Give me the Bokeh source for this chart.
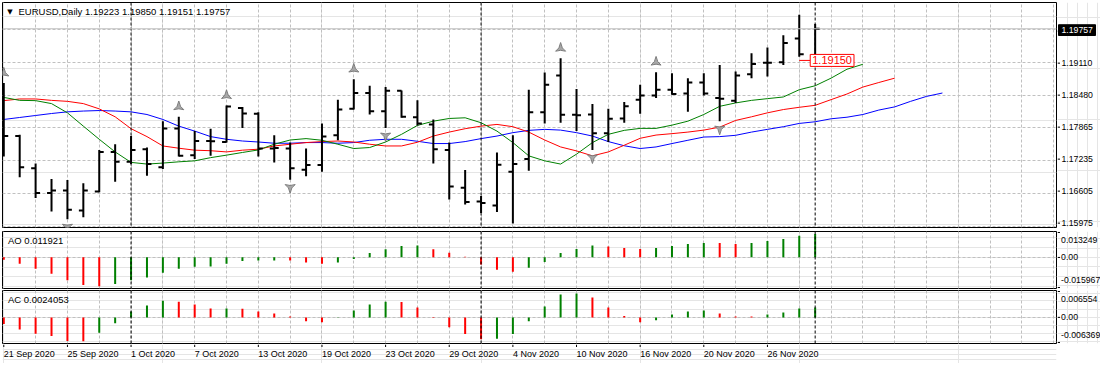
import numpy as np
import pandas as pd
from bokeh.plotting import figure
from bokeh.layouts import column, row
from bokeh.models import Range1d, FixedTicker, Span, Label, Grid
from bokeh.core.properties import value
from bokeh.embed import file_html
from bokeh.resources import INLINE

FONT = "Liberation Sans"
FS = "9.5px"      # titles
FS_SCALE = "8.7px"  # price / indicator scale
FS_DATE = "9px"
GRID = "#C0C0C0"

# ---------------- data ----------------
dates = pd.bdate_range("2020-09-21", "2020-12-01")
date_text = [f"{d.day} {d.strftime('%b %Y')}" for d in dates]

opens = [1.18400, 1.17700, 1.17081, 1.16606, 1.16655, 1.16275, 1.16636, 1.17396, 1.17206, 1.17448,
         1.17100, 1.17847, 1.17334, 1.17605, 1.17586, 1.18240, 1.18126, 1.17461, 1.17461, 1.17054,
         1.17144, 1.17714, 1.18221, 1.18525, 1.18175, 1.18569, 1.18061, 1.17923, 1.17434, 1.16707,
         1.16446, 1.16370, 1.17016, 1.17258, 1.18156, 1.18859, 1.18107, 1.18113, 1.17752, 1.18037,
         1.18398, 1.18479, 1.18588, 1.18517, 1.18726, 1.18430, 1.18379, 1.18886, 1.19106, 1.19114,
         1.19570, 1.19223]
highs = [1.18715, 1.17727, 1.17176, 1.16878, 1.16859, 1.16796, 1.17434, 1.17543, 1.17700, 1.17480,
         1.17985, 1.18069, 1.17795, 1.17841, 1.18284, 1.18259, 1.18156, 1.17714, 1.17575, 1.17461,
         1.17942, 1.18398, 1.18791, 1.18664, 1.18639, 1.18574, 1.18384, 1.18018, 1.17575, 1.17049,
         1.16549, 1.17385, 1.17714, 1.18588, 1.18916, 1.19190, 1.18601, 1.18316, 1.18221, 1.18354,
         1.18683, 1.18924, 1.18905, 1.18810, 1.18905, 1.19063, 1.18935, 1.19285, 1.19399, 1.19633,
         1.20026, 1.19850]
lows = [1.17309, 1.16910, 1.16511, 1.16256, 1.16104, 1.16142, 1.16625, 1.16826, 1.17163, 1.16940,
        1.17068, 1.17309, 1.17258, 1.17320, 1.17575, 1.17852, 1.17309, 1.17195, 1.16864, 1.16929,
        1.17016, 1.17619, 1.18208, 1.18113, 1.17852, 1.18050, 1.17904, 1.17176, 1.16484, 1.16389,
        1.16226, 1.16245, 1.16023, 1.17035, 1.17942, 1.17955, 1.17795, 1.17434, 1.17586, 1.17955,
        1.18126, 1.18430, 1.18493, 1.18164, 1.18479, 1.17985, 1.18335, 1.18810, 1.18840, 1.19063,
        1.19220, 1.19151]
closes = [1.17700, 1.17100, 1.16606, 1.16655, 1.16289, 1.16655, 1.17396, 1.17206, 1.17434, 1.17163,
          1.17847, 1.17320, 1.17605, 1.17600, 1.18265, 1.18132, 1.17461, 1.17470, 1.17081, 1.17144,
          1.17689, 1.18208, 1.18525, 1.18175, 1.18569, 1.18069, 1.17942, 1.17448, 1.16731, 1.16435,
          1.16416, 1.17149, 1.17163, 1.18156, 1.18683, 1.18107, 1.18099, 1.17752, 1.18031, 1.18270,
          1.18479, 1.18588, 1.18506, 1.18726, 1.18517, 1.18417, 1.18859, 1.19082, 1.19106, 1.19486,
          1.19266, 1.19757]

# Alligator (shifted forward, so they run past the last bar)
jaw = [1.18018, 1.18056, 1.18094, 1.18132, 1.18164, 1.18179, 1.18189, 1.18179, 1.18164, 1.18113,
       1.18018, 1.17890, 1.17795, 1.17689, 1.17638, 1.17605, 1.17586, 1.17562, 1.17562, 1.17575,
       1.17575, 1.17562, 1.17575, 1.17619, 1.17638, 1.17638, 1.17600, 1.17556, 1.17556, 1.17594,
       1.17651, 1.17700, 1.17765, 1.17809, 1.17828, 1.17814, 1.17765, 1.17700, 1.17594, 1.17514,
       1.17461, 1.17491, 1.17556, 1.17619, 1.17681, 1.17689, 1.17714, 1.17776, 1.17828, 1.17879,
       1.17942, 1.17974, 1.18031, 1.18061, 1.18113, 1.18198, 1.18259, 1.18365, 1.18460, 1.18525]
teeth = [1.18379, 1.18411, 1.18411, 1.18384, 1.18365, 1.18322, 1.18221, 1.18069, 1.17841, 1.17689,
         1.17510, 1.17467, 1.17429, 1.17419, 1.17396, 1.17429, 1.17448, 1.17510, 1.17543, 1.17575,
         1.17594, 1.17605, 1.17586, 1.17543, 1.17510, 1.17510, 1.17581, 1.17700, 1.17776, 1.17841,
         1.17890, 1.17923, 1.17879, 1.17776, 1.17624, 1.17491, 1.17415, 1.17320, 1.17396, 1.17524,
         1.17657, 1.17719, 1.17746, 1.17776, 1.17814, 1.17871, 1.17999, 1.18069, 1.18145, 1.18208,
         1.18251, 1.18289, 1.18398, 1.18506, 1.18639, 1.18726, 1.18810]
lips = [1.18441, 1.18384, 1.18379, 1.18322, 1.18145, 1.17890, 1.17638, 1.17396, 1.17195, 1.17163,
        1.17182, 1.17206, 1.17225, 1.17286, 1.17334, 1.17385, 1.17434, 1.17543, 1.17624, 1.17651,
        1.17619, 1.17543, 1.17461, 1.17480, 1.17586, 1.17733, 1.17904, 1.17985, 1.18037, 1.18050,
        1.17955, 1.17795, 1.17575, 1.17320, 1.17225, 1.17163, 1.17353, 1.17575, 1.17733, 1.17809,
        1.17847, 1.17847, 1.17909, 1.17985, 1.18113, 1.18270, 1.18335, 1.18384, 1.18417, 1.18449,
        1.18588, 1.18664, 1.18810, 1.18981, 1.19076]

fractal_up = [0, 11, 14, 22, 35, 41]
fractal_down = [4, 18, 24, 32, 37, 45]

ao = [-0.00117, -0.00334, -0.00585, -0.00835, -0.01169, -0.01420, -0.01486, -0.01369, -0.01169, -0.01035,
      -0.00785, -0.00585, -0.00484, -0.00468, -0.00334, -0.00184, -0.00167, -0.00159, -0.00167, -0.00267,
      -0.00334, -0.00267, -0.00084, 0.00217, 0.00418, 0.00585, 0.00601, 0.00418, 0.00234, 0.00033,
      -0.00367, -0.00635, -0.00735, -0.00534, -0.00234, 0.00221, 0.00425, 0.00612, 0.00561, 0.00476,
      0.00425, 0.00476, 0.00578, 0.00680, 0.00740, 0.00731, 0.00680, 0.00731, 0.00833, 0.00935,
      0.01105, 0.011921]
ac = [-0.00160, -0.00295, -0.00399, -0.00455, -0.00575, -0.00580, -0.00375, -0.00144, 0.00144, 0.00287,
      0.00407, 0.00383, 0.00311, 0.00215, 0.00218, 0.00212, 0.00144, 0.00096, 0.00024, -0.00096,
      -0.00120, 0.00005, 0.00168, 0.00311, 0.00383, 0.00378, 0.00239, 0.00008, -0.00239, -0.00407,
      -0.00535, -0.00519, -0.00407, -0.00096, 0.00263, 0.00556, 0.00580, 0.00484, 0.00238, 0.00032,
      -0.00119, -0.00071, 0.00071, 0.00143, 0.00167, 0.00095, 0.00024, 0.00020, 0.00071, 0.00119,
      0.00214, 0.0024053]

price_grid = [1.19737, 1.19110, 1.18483, 1.17856, 1.17229, 1.16602, 1.15975]
price_labels = ["", "1.19110", "1.18480", "1.17865", "1.17235", "1.16605", "1.15975"]
ao_scale = [0.013249, 0.0, -0.015967]
ac_scale = [0.006554, 0.0, -0.006369]
ao_scale_text = ["0.013249", "0.00", "-0.015967"]
ac_scale_text = ["0.006554", "0.00", "-0.006369"]
marked_low = 1.19150

# ---------------- layout ----------------
LW = 1057          # chart figures (2px left border + 1054 frame + 1px right border)
RW = 43            # price-scale column
n = len(closes)
idx = np.arange(n)
XR = Range1d(-0.081, 66.17)
month_starts = [i for i in range(1, n) if dates[i].month != dates[i - 1].month]


def make_fig(h, top, bottom, yr):
    p = figure(width=LW, height=h, x_range=XR, y_range=yr, output_backend="svg",
               toolbar_location=None, x_axis_location=None, y_axis_location=None,
               min_border_left=2, min_border_right=1, min_border_top=top, min_border_bottom=bottom,
               background_fill_color="white", border_fill_color="white",
               outline_line_color="black", outline_line_width=1)
    p.add_layout(Grid(dimension=0, ticker=FixedTicker(ticks=list(range(2, 67, 2))),
                      grid_line_color=GRID, grid_line_dash="3 2"))
    for m in month_starts:
        p.add_layout(Span(location=m, dimension="height", line_color="black",
                          line_dash="3 2", line_width=1))
    return p


def side_fig(h, top, bottom, vmin, vmax):
    fh = h - top - bottom
    pp = (vmax - vmin) / fh
    p = figure(width=RW, height=h, x_range=Range1d(0, RW),
               y_range=Range1d(vmin - bottom * pp, vmax + top * pp), output_backend="svg",
               toolbar_location=None, x_axis_location=None, y_axis_location=None, min_border=0,
               background_fill_color="white", border_fill_color="white", outline_line_color=None)
    return p, pp


def txt(p, xs, ys, texts, color="black", size=FS_SCALE, align="left", baseline="middle"):
    p.text(xs, ys, text=texts, text_color=color, text_font=value(FONT), text_font_size=value(size),
           text_align=align, text_baseline=baseline)


# main price panel
MH, MT, MB = 230, 2, 3
py0, py1 = 1.15947, 1.20260
main = make_fig(MH, MT, MB, Range1d(py0, py1))
main.add_layout(Grid(dimension=1, ticker=FixedTicker(ticks=price_grid),
                     grid_line_color=GRID, grid_line_dash="3 2"))
main.add_layout(Span(location=closes[-1], dimension="width", line_color=GRID, line_width=1))

main.line(np.arange(len(jaw)), jaw, line_color="#0000FF", line_width=1)
main.line(np.arange(len(teeth)), teeth, line_color="#FF0000", line_width=1)
main.line(np.arange(len(lips)), lips, line_color="#008000", line_width=1)

tick = 0.28
main.segment(idx, lows, idx, highs, line_color="black", line_width=2)
main.segment(idx - tick, opens, idx, opens, line_color="black", line_width=2)
main.segment(idx, closes, idx + tick, closes, line_color="black", line_width=2)

mpp = (py1 - py0) / (MH - MT - MB)
main.scatter(fractal_up, [highs[i] + 10 * mpp for i in fractal_up],
             marker="triangle_pin", size=10, fill_color="#A8A8A8", line_color="#7A7A7A", line_width=1)
main.scatter(fractal_down, [lows[i] - 7.8 * mpp for i in fractal_down],
             marker="triangle_pin", angle=np.pi, size=10, fill_color="#A8A8A8", line_color="#7A7A7A",
             line_width=1)

# red price label at the last bar's low
main.segment([n - 2], [marked_low], [n - 1.31], [marked_low], line_color="red", line_width=1)
main.add_layout(Label(x=n - 1.31, y=marked_low, text=f"{marked_low:.5f}", text_font=FONT,
                      text_font_size="11px", text_color="red", text_baseline="middle",
                      text_align="left", border_line_color="red", background_fill_color="white",
                      padding=2))

main.add_layout(Label(x=XR.start, y=py1, x_offset=7.5, y_offset=-9, text="▼", text_font="DejaVu Sans",
                      text_font_size="7px", text_baseline="middle", text_align="center",
                      text_color="black"))
main.add_layout(Label(x=XR.start, y=py1, x_offset=16, y_offset=-9,
                      text=f"EURUSD,Daily  {opens[-1]:.5f} {highs[-1]:.5f} {lows[-1]:.5f} {closes[-1]:.5f}",
                      text_font=FONT, text_font_size=FS, text_baseline="middle", text_color="black"))

main_r, _ = side_fig(MH, MT, MB, py0, py1)
main_r.segment([0] * len(price_grid), price_grid, [2.5] * len(price_grid), price_grid,
               line_color="black", line_width=1)
lab_v = [v for v, t in zip(price_grid, price_labels) if t]
lab_t = [t for t in price_labels if t]
txt(main_r, [4] * len(lab_v), lab_v, lab_t)
main_r.quad(left=[1], right=[38], bottom=[closes[-1] - 5.5 * mpp], top=[closes[-1] + 5.5 * mpp],
            fill_color="black", line_color="black")
txt(main_r, [4], [closes[-1]], [f"{closes[-1]:.5f}"], color="white")


def osc_panel(vals, scale, scale_text, name, h, top, bottom):
    p = make_fig(h, top, bottom, Range1d(scale[2], scale[0]))
    p.add_layout(Grid(dimension=1, ticker=FixedTicker(ticks=[0.0]),
                      grid_line_color=GRID, grid_line_dash="3 2"))
    cols = ["#FF0000"] + ["#008000" if vals[i] > vals[i - 1] else "#FF0000" for i in range(1, len(vals))]
    p.segment(idx, [0] * len(vals), idx, vals, line_color=cols, line_width=2)
    p.add_layout(Label(x=XR.start, y=scale[0], x_offset=5.5, y_offset=-8.7,
                       text=f"{name} {vals[-1]}", text_font=FONT, text_font_size=FS,
                       text_baseline="middle", text_color="black"))
    r, pp = side_fig(h, top, bottom, scale[2], scale[0])
    r.segment([0] * 3, scale, [2.5] * 3, scale, line_color="black", line_width=1)
    ys = [scale[0] - 7.4 * pp, scale[1], scale[2] + 7.5 * pp]
    txt(r, [3.6] * 3, ys, scale_text)
    return p, r


ao_p, ao_r = osc_panel(ao, ao_scale, ao_scale_text, "AO", 59, 1, 1)
ac_p, ac_r = osc_panel(ac, ac_scale, ac_scale_text, "AC", 55, 1, 1)

# date strip
DH = 19
dstrip = figure(width=LW, height=DH, x_range=XR, y_range=Range1d(DH, 0), output_backend="svg",
                toolbar_location=None, x_axis_location=None, y_axis_location=None,
                min_border_left=2, min_border_right=1, min_border_top=0, min_border_bottom=0,
                background_fill_color="white", border_fill_color="white", outline_line_color=None)
lab_idx = list(range(0, n, 4))
dstrip.segment(lab_idx, [0] * len(lab_idx), lab_idx, [2.5] * len(lab_idx), line_color="black", line_width=1)
txt(dstrip, lab_idx, [9.5] * len(lab_idx), [date_text[i] for i in lab_idx], size=FS_DATE)

layout = column(row(main, main_r, spacing=0), row(ao_p, ao_r, spacing=0),
                row(ac_p, ac_r, spacing=0), dstrip, spacing=0)
open("out.html", "w").write(file_html(layout, INLINE))
